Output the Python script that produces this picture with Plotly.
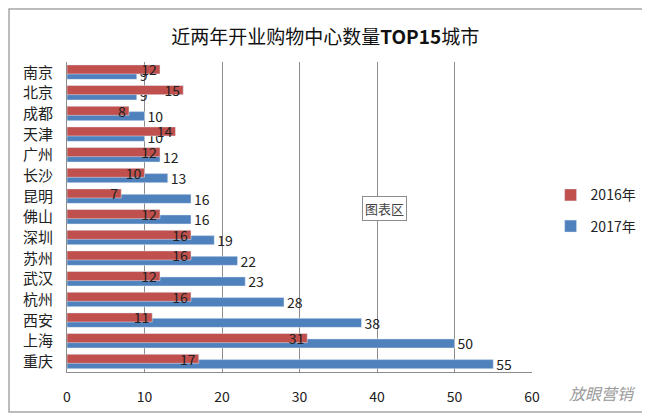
import plotly.graph_objects as go

# data
cities = ['南京', '北京', '成都', '天津', '广州', '长沙', '昆明', '佛山',
          '深圳', '苏州', '武汉', '杭州', '西安', '上海', '重庆']
y2016 = [12, 15, 8, 14, 12, 10, 7, 12, 16, 16, 12, 16, 11, 31, 17]
y2017 = [9, 9, 10, 10, 12, 13, 16, 16, 19, 22, 23, 28, 38, 50, 55]
x_ticks = [0, 10, 20, 30, 40, 50, 60]

red = '#C0504D'
blue = '#4F81BD'
font_family = 'Noto Sans CJK SC'

fig = go.Figure()

# blue first so the red bar overlaps it, like the Excel original
fig.add_trace(go.Bar(y=cities, x=y2017, orientation='h', name='2017年',
                     marker_color=blue, width=0.44, offset=-0.1,
                     text=y2017, textposition='outside', constraintext='none',
                     textangle=0,
                     textfont=dict(size=14, color='#222', family=font_family),
                     legendrank=2, legendgroup='b', cliponaxis=False))

fig.add_trace(go.Bar(y=cities, x=y2016, orientation='h', name='2016年',
                     marker_color=red, width=0.44, offset=-0.36,
                     text=y2016, textposition='inside', insidetextanchor='end',
                     constraintext='none', textangle=0,
                     textfont=dict(size=14, color='#222', family=font_family),
                     legendrank=1, legendgroup='a'))

# the page body adds an 8px offset, so margins are shifted back by 8
fig.update_layout(width=650, height=419,
                  margin=dict(l=59, r=126, t=54, b=55, autoexpand=False),
                  plot_bgcolor='white',
                  paper_bgcolor='white',
                  barmode='overlay',
                  font=dict(family=font_family, size=14, color='#222'),
                  title=dict(text='近两年开业购物中心数量<b>TOP15</b>城市',
                             x=0.488, xref='container', xanchor='center',
                             y=0.931, yanchor='middle',
                             font=dict(size=19, color='#111')),
                  legend=dict(x=1.04, y=0.52, xanchor='left', yanchor='middle',
                              traceorder='grouped', tracegroupgap=10,
                              font=dict(size=14, color='#222'),
                              bgcolor='rgba(0,0,0,0)'),
                  showlegend=True)

fig.update_xaxes(range=[0, 60], tickvals=x_ticks,
                 showgrid=True, gridcolor='#8c8c8c', gridwidth=1,
                 showline=True, linecolor='#8c8c8c', linewidth=1,
                 zeroline=False, ticks='', ticklabelstandoff=12,
                 tickfont=dict(size=14, color='#222'))

fig.update_yaxes(autorange='reversed', showgrid=False,
                 showline=True, linecolor='#8c8c8c', linewidth=1,
                 ticks='', ticklabelstandoff=10,
                 tickfont=dict(size=15, color='#222'))

# Excel chart-area frame
fig.add_shape(type='rect', xref='paper', yref='paper',
              x0=-0.1247, x1=1.243, y0=-0.129, y1=1.171,
              line=dict(color='#a6a6a6', width=1.5), layer='below')

# the "chart area" tooltip box that shows in the screenshot
fig.add_annotation(x=0.731, y=0.529, xref='paper', yref='paper',
                   text='图表区', showarrow=False,
                   font=dict(size=13, color='#444'),
                   bordercolor='#8c8c8c', borderwidth=1, borderpad=2,
                   bgcolor='white')

# watermark
fig.add_annotation(x=1.075, y=-0.068, xref='paper', yref='paper',
                   xanchor='left', yanchor='middle',
                   text='<i>放眼营销</i>', showarrow=False,
                   font=dict(size=16, color='#9a9a9a'))

fig.write_html('out.html')
